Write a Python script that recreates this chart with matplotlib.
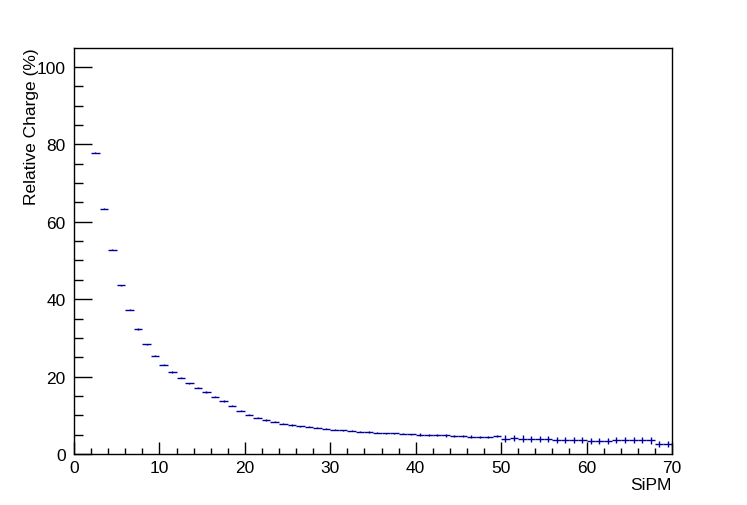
import numpy as np
import matplotlib
matplotlib.use("Agg")
import matplotlib.pyplot as plt
from matplotlib.ticker import MultipleLocator

# bin low edges (width 1) and relative charge per SiPM
bin_low = list(range(2, 70))
charge = [77.8, 63.4, 52.8, 43.6, 37.3, 32.3, 28.4, 25.4, 23.1, 21.2,
          19.7, 18.3, 17.1, 16.0, 14.8, 13.7, 12.5, 11.2, 10.2, 9.4,
          8.8, 8.3, 7.8, 7.5, 7.2, 7.0, 6.8, 6.5, 6.3, 6.1,
          6.0, 5.8, 5.7, 5.5, 5.4, 5.3, 5.2, 5.1, 5.0, 4.95,
          4.9, 4.8, 4.7, 4.6, 4.5, 4.4, 4.4, 4.6, 4.0, 4.2,
          4.0, 3.9, 3.9, 3.8, 3.7, 3.7, 3.6, 3.6, 3.4, 3.3,
          3.3, 3.6, 3.6, 3.6, 3.6, 3.5, 2.5, 2.5]
charge_err = [0.15] * 38 + [0.3] * 10 + [0.8] * 20

plt.rcParams['font.family'] = ['Liberation Sans', 'DejaVu Sans']

W, H = 747, 506
fig = plt.figure(figsize=(W / 100, H / 100), dpi=100)
ax = fig.add_axes([74 / W, 1 - 455 / H, 598 / W, 406 / H])

centers = np.array(bin_low) + 0.5
ax.errorbar(centers, charge, xerr=0.5, yerr=charge_err, fmt='none',
            ecolor='#000099', elinewidth=1.0, capsize=0)

ax.set_xlim(0, 70)
ax.set_ylim(0, 104.9)
ax.xaxis.set_major_locator(MultipleLocator(10))
ax.xaxis.set_minor_locator(MultipleLocator(2))
ax.yaxis.set_major_locator(MultipleLocator(20))
ax.yaxis.set_minor_locator(MultipleLocator(5))

ax.tick_params(axis='both', which='both', direction='in', top=False, right=False,
               width=1, labelsize=12.5, colors='black')
ax.tick_params(axis='y', which='major', length=13, pad=6)
ax.tick_params(axis='y', which='minor', length=6.5)
ax.tick_params(axis='x', which='major', length=9, pad=4)
ax.tick_params(axis='x', which='minor', length=4.5)
for s in ax.spines.values():
    s.set_linewidth(1)

fig.text(32 / W, 1 - 48 / H, 'Relative Charge (%)', rotation=90,
         ha='center', va='top', fontsize=12.5)
fig.text(672 / W, 1 - 486 / H, 'SiPM', ha='right', va='center', fontsize=12.5)

fig.savefig('out.png', dpi=100)
